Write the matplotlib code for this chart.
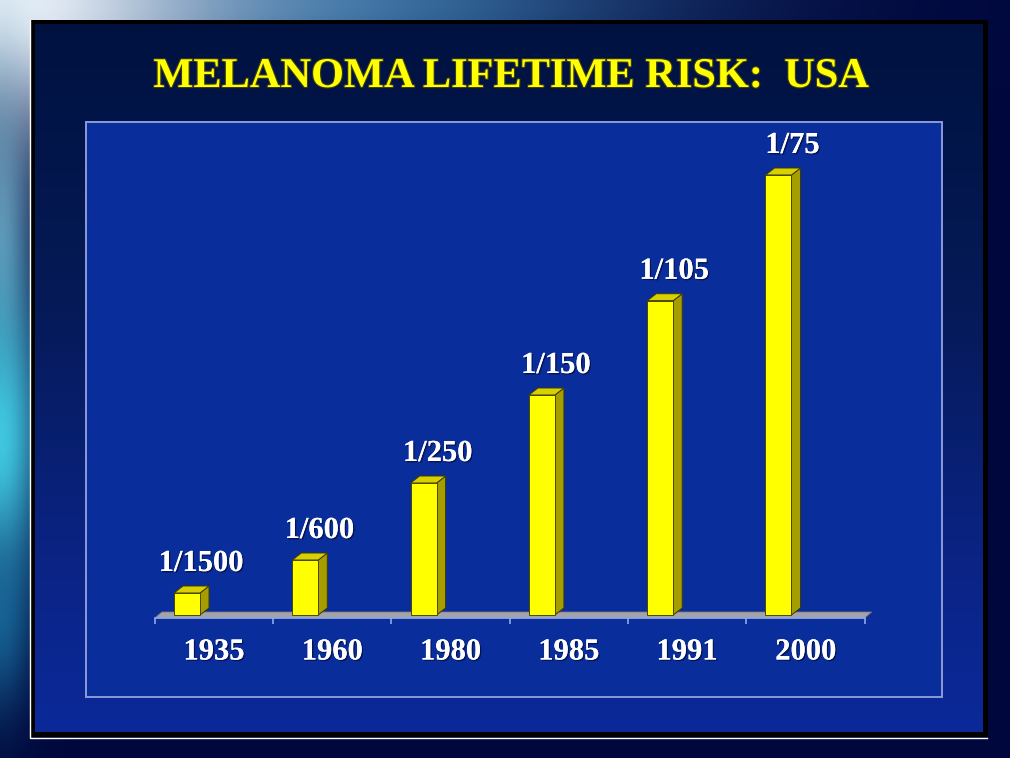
import numpy as np
import matplotlib
matplotlib.use('Agg')
import matplotlib.pyplot as plt
from matplotlib.patches import Rectangle, Polygon
import matplotlib.patheffects as pe

# data
title = 'MELANOMA LIFETIME RISK:  USA'
years = ['1935', '1960', '1980', '1985', '1991', '2000']
risk_denominators = [1500, 600, 250, 150, 105, 75]
risk_labels = ['1/1500', '1/600', '1/250', '1/150', '1/105', '1/75']

risk = [1.0 / d for d in risk_denominators]

W, H = 1010, 758
fig = plt.figure(figsize=(W / 100, H / 100), dpi=100)

# ---- background layer, in pixel coordinates ----
bg = fig.add_axes([0, 0, 1, 1])
bg.set_xlim(0, W)
bg.set_ylim(H, 0)
bg.axis('off')

yy, xx = np.mgrid[0:H, 0:W].astype(float)
img = np.zeros((H, W, 3))
img[:] = [0.0, 0.03, 0.24]


def blend(img, cx, cy, sx, sy, color, strength=1.0):
    w = strength * np.exp(-(((xx - cx) / sx) ** 2 + ((yy - cy) / sy) ** 2))
    w = w[..., None]
    return img * (1 - w) + np.array(color) * w


img = blend(img, 330, 0, 330, 70, (0.22, 0.45, 0.65), 0.95)
img = blend(img, 0, 0, 230, 140, (0.92, 0.95, 0.98), 1.0)
img = blend(img, 0, 230, 30, 170, (0.42, 0.62, 0.74), 0.9)
img = blend(img, 0, 440, 40, 150, (0.25, 0.78, 0.88), 1.0)
img = blend(img, 0, 620, 30, 90, (0.1, 0.45, 0.65), 0.7)
bg.imshow(np.clip(img, 0, 1), extent=(0, W, H, 0), aspect='auto', zorder=0)

# slide frame
bg.add_patch(Rectangle((30, 20), 958, 717, facecolor='black', edgecolor='none', zorder=1))
bg.plot([29.5, 29.5, 987], [20, 737.8, 737.8], color='white', lw=1.0, zorder=2)

# slide interior with vertical gradient
sy = np.linspace(24, 732, 300)
stops_y = [24, 300, 560, 732]
stops_c = [(0.0, 0.07, 0.25), (0.02, 0.10, 0.34), (0.04, 0.14, 0.52), (0.04, 0.16, 0.60)]
grad = np.stack([np.interp(sy, stops_y, [c[k] for c in stops_c]) for k in range(3)], axis=-1)
grad = np.repeat(grad[:, None, :], 2, axis=1)
bg.imshow(grad, extent=(35, 983, 732, 24), aspect='auto', zorder=2)

bg.text(511, 77, title, ha='center', va='center', fontsize=30.5, fontweight='bold',
        family='Liberation Serif', color='#ffff00', zorder=5,
        path_effects=[pe.withStroke(linewidth=1.6, foreground='#3c3c18')])

# ---- chart panel ----
L, R, T, B = 86, 942, 122, 697
px_cat = 118.3      # pixels per category
x_first = 214       # pixel centre of first category
y_base = 615        # pixel of the zero line
px_unit = 33000     # pixels per unit of risk

ax = fig.add_axes([L / W, 1 - B / H, (R - L) / W, (B - T) / H])
ax.set_xlim((L - x_first) / px_cat, (R - x_first) / px_cat)
ax.set_ylim(-(B - y_base) / px_unit, (y_base - T) / px_unit)
ax.set_facecolor('#0a2d9c')
for s in ax.spines.values():
    s.set_color('#8c9ad8')
    s.set_linewidth(1.4)
ax.set_xticks([])
ax.set_yticks([])

x = np.arange(len(years))

# floor
fx0, fx1 = -0.5, len(years) - 0.5
fdx, fdy = 7 / px_cat, 6 / px_unit
fy = -3 / px_unit
ax.add_patch(Polygon([(fx0, fy), (fx1, fy), (fx1 + fdx, fy + fdy), (fx0 + fdx, fy + fdy)],
                     closed=True, facecolor='#a4a4a8', edgecolor='#7a7a80', lw=0.6, zorder=2))
ax.plot([fx0, fx1], [fy, fy], color='#90a8e8', lw=1.2, zorder=2.5)
ax.vlines(np.arange(fx0, fx1 + 0.01, 1.0), fy - 6 / px_unit, fy, color='#90a8e8', lw=1.2, zorder=2.5)

# bars with a 3d look
bw = 26 / px_cat
xl = x - 40 / px_cat
dx, dy = 9 / px_cat, 7 / px_unit
ax.bar(xl, risk, width=bw, align='edge', color='#ffff00', edgecolor='#4a4800', lw=0.7, zorder=4)
for left, h in zip(xl, risk):
    right = left + bw
    ax.add_patch(Polygon([(right, 0), (right + dx, dy), (right + dx, h + dy), (right, h)],
                         closed=True, facecolor='#a69e00', edgecolor='#3c3a00', lw=0.7, zorder=3.5))
    ax.add_patch(Polygon([(left, h), (right, h), (right + dx, h + dy), (left + dx, h + dy)],
                         closed=True, facecolor='#d8d000', edgecolor='#3c3a00', lw=0.7, zorder=3.5))

shadow = [pe.withSimplePatchShadow(offset=(1, -1), shadow_rgbFace='#050f40', alpha=0.8), pe.Normal()]
for i, h in enumerate(risk):
    ax.text(i - 13 / px_cat, h + 22 / px_unit, risk_labels[i], ha='center', va='baseline',
            fontsize=22, fontweight='bold', family='Liberation Serif', color='white',
            path_effects=shadow, zorder=6)
    ax.text(i, -(652 - y_base) / px_unit, years[i], ha='center', va='center',
            fontsize=22, fontweight='bold', family='Liberation Serif', color='white',
            path_effects=shadow, zorder=6)

fig.savefig('out.png', dpi=100)
